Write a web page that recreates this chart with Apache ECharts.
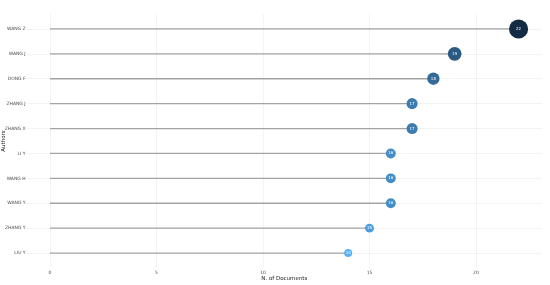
<!DOCTYPE html>
<html><head><meta charset="utf-8">
<script src="https://cdn.jsdelivr.net/npm/echarts@6/dist/echarts.min.js"></script>
<style>html,body{margin:0;padding:0;background:#fff}#c{width:550px;height:285px}</style>
</head><body><div id="c"></div>
<script>
const authors = ['WANG Z','WANG J','DONG F','ZHANG J','ZHANG X','LI Y','WANG H','WANG Y','ZHANG Y','LIU Y'];
const documents = [22,19,18,17,17,16,16,16,15,14];
const xTicks = [0,5,10,15,20];

function hex2rgb(h){return [1,3,5].map(i=>parseInt(h.substr(i,2),16));}
function rgb2lab(c){
  let [r,g,b]=c.map(v=>{v/=255;return v>0.04045?Math.pow((v+0.055)/1.055,2.4):v/12.92;});
  let x=(r*0.4124+g*0.3576+b*0.1805)/0.95047, y=(r*0.2126+g*0.7152+b*0.0722), z=(r*0.0193+g*0.1192+b*0.9505)/1.08883;
  const f=t=>t>0.008856?Math.cbrt(t):7.787*t+16/116;
  x=f(x);y=f(y);z=f(z);
  return [116*y-16,500*(x-y),200*(y-z)];
}
function lab2rgb(l){
  let y=(l[0]+16)/116, x=l[1]/500+y, z=y-l[2]/200;
  const fi=t=>t*t*t>0.008856?t*t*t:(t-16/116)/7.787;
  x=fi(x)*0.95047;y=fi(y);z=fi(z)*1.08883;
  let r=x*3.2406+y*-1.5372+z*-0.4986, g=x*-0.9689+y*1.8758+z*0.0415, b=x*0.0557+y*-0.2040+z*1.0570;
  return [r,g,b].map(v=>{v=v>0.0031308?1.055*Math.pow(v,1/2.4)-0.055:12.92*v;return Math.max(0,Math.min(255,Math.round(v*255)));});
}
const lowLab=rgb2lab(hex2rgb('#56B1F7')), highLab=rgb2lab(hex2rgb('#132B43'));
const vmin=Math.min(...documents), vmax=Math.max(...documents);
function colorFor(v){
  const t=(v-vmin)/(vmax-vmin);
  const c=lab2rgb(lowLab.map((a,i)=>a+(highLab[i]-a)*t));
  return 'rgb('+c.join(',')+')';
}
function sizeFor(v){return 8*Math.pow(1.115,v-vmin);}

const pts = documents.map((v,i)=>[v,i]);
const chart = echarts.init(document.getElementById('c'),null,{renderer:'canvas'});
chart.setOption({
  animation:false,
  grid:{left:26.6,right:8,top:14,bottom:17,containLabel:false,outerBoundsMode:'none'},
  xAxis:{type:'value',min:-1.1,max:23.1,
    name:'N. of Documents',nameLocation:'middle',nameGap:8,nameMoveOverlap:false,
    nameTextStyle:{fontSize:5.5,color:'#1a1a1a',fontFamily:'DejaVu Sans'},
    axisLine:{show:false},
    axisTick:{show:false,customValues:xTicks},
    axisLabel:{customValues:xTicks,fontSize:4.5,color:'#4d4d4d',margin:2,fontFamily:'DejaVu Sans'},
    splitLine:{show:true,lineStyle:{color:'#ebebeb',width:0.6}}
  },
  yAxis:{type:'value',min:-0.6,max:authors.length-0.4,inverse:true,
    name:'Authors',nameLocation:'middle',nameGap:20,nameRotate:90,nameMoveOverlap:false,
    nameTextStyle:{fontSize:5.5,color:'#1a1a1a',fontFamily:'DejaVu Sans'},
    axisLine:{show:false},
    axisTick:{show:false,customValues:authors.map((a,i)=>i)},
    axisLabel:{customValues:authors.map((a,i)=>i),formatter:v=>authors[v],fontSize:4.5,color:'#4d4d4d',margin:1,fontFamily:'DejaVu Sans'},
    splitLine:{show:true,lineStyle:{color:'#ebebeb',width:0.6}}
  },
  series:[
    {type:'custom',data:pts,z:2,silent:true,
      renderItem:function(params,api){
        const a=api.coord([0,api.value(1)]), b=api.coord([api.value(0),api.value(1)]);
        return {type:'line',shape:{x1:a[0],y1:a[1],x2:b[0],y2:b[1]},style:{stroke:'#a3a3a3',lineWidth:1.3}};
      }},
    {type:'scatter',data:pts,z:3,
      symbolSize:d=>sizeFor(d[0]),
      itemStyle:{color:p=>colorFor(p.value[0]),opacity:1},
      label:{show:true,position:'inside',formatter:p=>p.value[0],color:'#fff',fontSize:4,fontFamily:'DejaVu Sans'}
    }
  ]
});
</script></body></html>
